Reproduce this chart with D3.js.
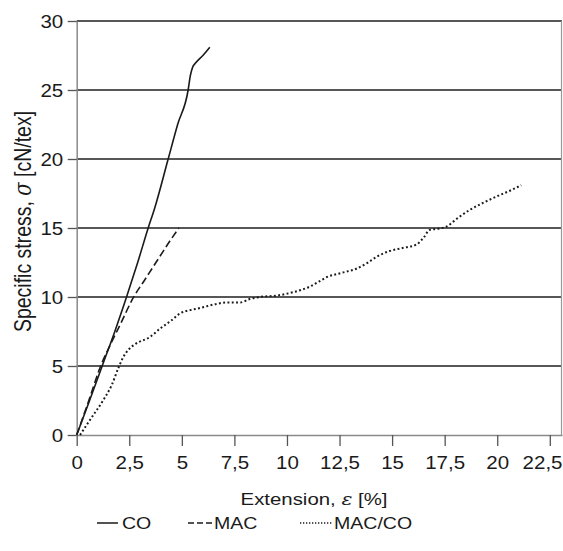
<!DOCTYPE html>
<html>
<head>
<meta charset="utf-8">
<script src="https://cdn.jsdelivr.net/npm/d3@7"></script>
<style>
  html, body { margin: 0; padding: 0; background: #fff; }
  svg { display: block; font-family: "Liberation Sans", Arial, sans-serif; }
</style>
</head>
<body>
<div id="chart"></div>
<script>
// values (extension %, specific stress cN/tex)
const coStrain = [0, 0.6, 1.2, 1.8, 2.37, 2.9, 3.4, 3.7, 4.35, 4.8, 5.3, 5.4, 5.5, 5.65, 6.0, 6.33];
const coStress = [0, 2.45, 4.95, 7.45, 10.0, 12.5, 15.0, 16.4, 20.0, 22.5, 25.0, 26.0, 26.6, 26.95, 27.5, 28.1];

const macStrain = [0, 0.6, 1.14, 1.6, 2.1, 2.69, 3.24, 3.96, 4.45, 4.86];
const macStress = [0, 2.6, 5.0, 6.55, 8.1, 9.95, 11.25, 12.95, 14.1, 15.0];

const mixStrain = [0.16, 0.63, 1.27, 1.66, 1.98, 2.2, 2.45, 2.8, 3.48, 4.0, 4.5, 4.9, 5.4, 5.86, 6.65, 7.1, 7.76, 8.23, 8.71, 9.5, 10.3, 11.08, 11.5, 11.88, 12.6, 13.3, 13.8, 14.25, 14.88, 15.5, 16.15, 16.5, 16.78, 17.2, 17.58, 18.1, 18.68, 19.3, 19.95, 20.6, 21.14];
const mixStress = [0, 1.09, 2.54, 3.6, 4.85, 5.6, 6.16, 6.6, 7.1, 7.75, 8.3, 8.8, 9.05, 9.2, 9.5, 9.6, 9.6, 9.85, 10.0, 10.1, 10.35, 10.75, 11.1, 11.43, 11.75, 12.05, 12.45, 12.9, 13.33, 13.55, 13.8, 14.3, 14.86, 14.95, 15.1, 15.7, 16.3, 16.8, 17.27, 17.7, 18.1];

const xTicks = [0, 2.5, 5, 7.5, 10, 12.5, 15, 17.5, 20, 22.5];
const yTicks = [0, 5, 10, 15, 20, 25, 30];
const seriesNames = ['CO', 'MAC', 'MAC/CO'];

const width = 563;
const height = 551;
const stretch = 1.2; // source glyphs look horizontally widened
const tickStretch = 1.08;
const ink = '#1a1a1a';

const x = d3.scaleLinear().domain([0, 23.08]).range([76.7, 562]);
const y = d3.scaleLinear().domain([0, 30]).range([435, 21]);

const svg = d3.select('#chart').append('svg')
  .attr('width', width)
  .attr('height', height)
  .attr('viewBox', `0 0 ${width} ${height}`);

// grid lines
svg.append('g')
  .selectAll('line')
  .data(yTicks.filter((d) => d > 0))
  .join('line')
  .attr('x1', x(0))
  .attr('x2', x.range()[1])
  .attr('y1', (d) => y(d))
  .attr('y2', (d) => y(d))
  .attr('stroke', '#1f1f1f')
  .attr('stroke-width', 1.3);

// right border
svg.append('line')
  .attr('x1', x.range()[1] - 0.5).attr('x2', x.range()[1] - 0.5)
  .attr('y1', y(30)).attr('y2', y(0))
  .attr('stroke', '#999').attr('stroke-width', 1.2);

const fmt = (d) => String(d).replace('.', ',');

const xAxis = svg.append('g')
  .attr('transform', `translate(0,${y(0)})`)
  .call(d3.axisBottom(x).tickValues(xTicks).tickFormat(fmt).tickSize(11).tickPadding(10).tickSizeOuter(0));

const yAxis = svg.append('g')
  .attr('transform', `translate(${x(0)},0)`)
  .call(d3.axisLeft(y).tickValues(yTicks).tickSize(9).tickSizeOuter(0));

[xAxis, yAxis].forEach((axis) => {
  axis.select('.domain').attr('stroke', '#8a8a8a').attr('stroke-width', 1.5);
  axis.selectAll('.tick line').attr('stroke', '#555').attr('stroke-width', 1.3);
  axis.selectAll('.tick text')
    .attr('fill', ink)
    .attr('font-size', 19)
    .attr('font-family', '"Liberation Sans", Arial, sans-serif')
    .attr('transform', `scale(${tickStretch},1)`);
});
yAxis.selectAll('.tick text').attr('x', -13.5 / tickStretch);

// last x label is pushed inside the frame, as in the source
xAxis.selectAll('.tick text')
  .filter((d) => d === xTicks[xTicks.length - 1])
  .attr('text-anchor', 'end')
  .attr('x', (562 - x(xTicks[xTicks.length - 1])) / tickStretch);

// series
const series = [
  { name: seriesNames[0], xs: coStrain, ys: coStress, dash: null, w: 1.6 },
  { name: seriesNames[1], xs: macStrain, ys: macStress, dash: '7.5,3.5', w: 1.6 },
  { name: seriesNames[2], xs: mixStrain, ys: mixStress, dash: '1.9,2.4', w: 2 }
];

const line = d3.line()
  .x((d) => x(d[0]))
  .y((d) => y(d[1]))
  .curve(d3.curveMonotoneX);

svg.append('g')
  .selectAll('path')
  .data(series)
  .join('path')
  .attr('d', (s) => line(s.xs.map((v, i) => [v, s.ys[i]])))
  .attr('fill', 'none')
  .attr('stroke', ink)
  .attr('stroke-width', (s) => s.w)
  .attr('stroke-dasharray', (s) => s.dash);

// axis titles
const xTitle = svg.append('text')
  .attr('transform', `translate(314,505) scale(${stretch},1)`)
  .attr('text-anchor', 'middle')
  .attr('font-size', 17)
  .attr('fill', ink);
xTitle.append('tspan').text('Extension, ');
xTitle.append('tspan').attr('font-family', '"DejaVu Serif", serif').attr('font-style', 'italic').text('ε');
xTitle.append('tspan').text(' [%]');

const yTitle = svg.append('text')
  .attr('transform', `translate(31,221.5) scale(${stretch},1) rotate(-90)`)
  .attr('text-anchor', 'middle')
  .attr('font-size', 19.5)
  .attr('fill', ink);
yTitle.append('tspan').text('Specific stress, ');
yTitle.append('tspan').attr('font-family', '"DejaVu Serif", serif').attr('font-style', 'italic').text('σ');
yTitle.append('tspan').text(' [cN/tex]');

// legend
const legendItems = [
  { name: seriesNames[0], x1: 97, x2: 118, tx: 122, dash: null, w: 1.5 },
  { name: seriesNames[1], x1: 188, x2: 212, tx: 214, dash: '6,3', w: 1.5 },
  { name: seriesNames[2], x1: 300, x2: 333, tx: 334, dash: '1.3,1.7', w: 1.5 }
];

const legend = svg.append('g').attr('class', 'legend');
legend.selectAll('line')
  .data(legendItems)
  .join('line')
  .attr('x1', (d) => d.x1)
  .attr('x2', (d) => d.x2)
  .attr('y1', 523)
  .attr('y2', 523)
  .attr('stroke', ink)
  .attr('stroke-width', (d) => d.w)
  .attr('stroke-dasharray', (d) => d.dash);

legend.selectAll('text')
  .data(legendItems)
  .join('text')
  .attr('transform', (d) => `translate(${d.tx},529) scale(1.15,1)`)
  .attr('font-size', 17)
  .attr('fill', ink)
  .text((d) => d.name);
</script>
</body>
</html>
